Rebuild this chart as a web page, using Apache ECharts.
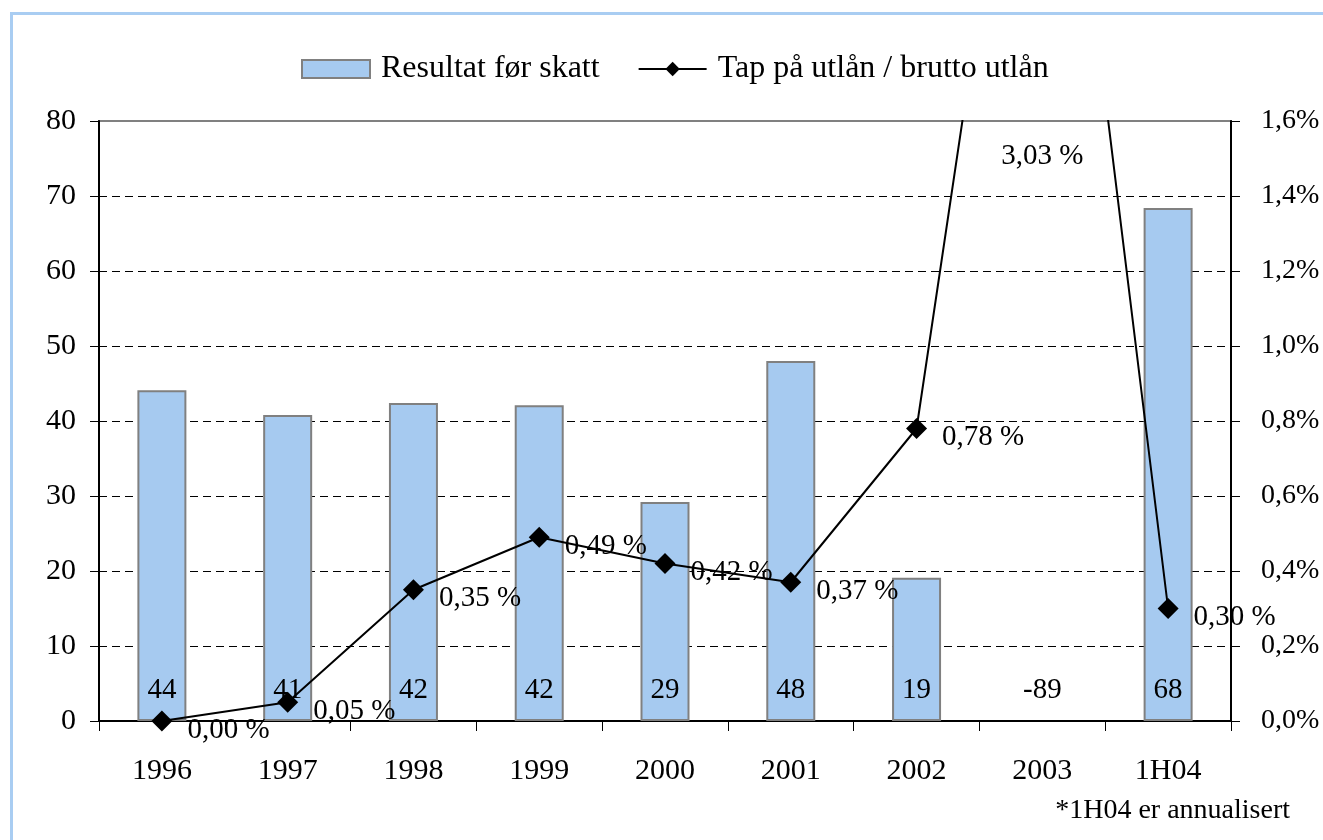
<!DOCTYPE html>
<html>
<head>
<meta charset="utf-8">
<script src="https://cdn.jsdelivr.net/npm/echarts@6/dist/echarts.min.js"></script>
<style>
  html, body { margin: 0; padding: 0; background: #fff; overflow: hidden; }
  #wrap { position: relative; width: 1323px; height: 840px; overflow: hidden; }
  #frame { position: absolute; left: 10px; top: 12px; width: 1400px; height: 900px;
           border: 3px solid #a9cdf2; box-sizing: border-box; }
  #chart { position: absolute; left: 0; top: 0; width: 1323px; height: 840px; }
</style>
</head>
<body>
<div id="wrap">
  <div id="frame"></div>
  <div id="chart"></div>
</div>
<script>
// kategorier og verdier
var aar = ['1996', '1997', '1998', '1999', '2000', '2001', '2002', '2003', '1H04'];
var resultat = [44.1, 40.8, 42.4, 42.1, 29.2, 48.0, 19.1, -89, 68.4];
var tap = [0.00, 0.05, 0.35, 0.49, 0.42, 0.37, 0.78, 3.03, 0.30];
var venstreTicks = { min: 0, max: 80, interval: 10 };
var hoyreTicks = { min: 0, max: 1.6, interval: 0.2 };

var font = 'Liberation Serif';
var chart = echarts.init(document.getElementById('chart'));

function pst(v) {
  return v.toFixed(2).replace('.', ',') + ' %';
}

// punkter over aksen vises ved toppen av plottet (kun etiketten)
var overMaks = tap.map(function (v, i) {
  return v > hoyreTicks.max ? [i, hoyreTicks.max, v] : [i, '-', v];
});

var option = {
  animation: false,
  textStyle: { fontFamily: font, color: '#000' },
  title: {
    text: '*1H04 er annualisert',
    right: 28,
    top: 792,
    textStyle: { fontFamily: font, fontSize: 28, fontWeight: 'normal', color: '#000' }
  },
  legend: {
    left: 296,
    top: 48,
    itemWidth: 68,
    itemHeight: 18,
    itemGap: 38,
    textStyle: { fontFamily: font, fontSize: 32, color: '#000', padding: [0, 0, 0, 6] },
    data: [
      { name: 'Resultat før skatt', icon: 'rect' },
      { name: 'Tap på utlån / brutto utlån' }
    ]
  },
  grid: {
    left: 99, right: 92, top: 121, bottom: 119,
    outerBoundsMode: 'none',
    show: true, borderColor: '#808080', borderWidth: 2, backgroundColor: 'transparent'
  },
  xAxis: {
    type: 'category',
    data: aar,
    axisLine: { lineStyle: { color: '#000', width: 2 } },
    axisTick: { show: true, length: 10, lineStyle: { color: '#000', width: 1 } },
    axisLabel: { fontFamily: font, fontSize: 30, color: '#000', margin: 35 }
  },
  yAxis: [{
    type: 'value',
    min: venstreTicks.min, max: venstreTicks.max, interval: venstreTicks.interval,
    axisLine: { show: true, lineStyle: { color: '#000', width: 2 } },
    axisTick: { show: true, length: 9, lineStyle: { color: '#000' } },
    axisLabel: { fontFamily: font, fontSize: 30, color: '#000', margin: 23 },
    splitLine: {
      show: true, showMinLine: false, showMaxLine: false,
      lineStyle: { color: '#000', width: 1, type: [8, 5] }
    }
  }, {
    type: 'value',
    position: 'right',
    min: hoyreTicks.min, max: hoyreTicks.max, interval: hoyreTicks.interval,
    axisLine: { show: true, lineStyle: { color: '#000', width: 2 } },
    axisTick: { show: true, length: 9, lineStyle: { color: '#000' } },
    axisLabel: {
      fontFamily: font, fontSize: 28, color: '#000', margin: 30,
      formatter: function (v) { return v.toFixed(1).replace('.', ',') + '%'; }
    },
    splitLine: { show: false }
  }],
  series: [{
    name: 'Resultat før skatt',
    type: 'bar',
    data: resultat,
    barWidth: 49,
    itemStyle: { color: '#a6caf0', borderColor: '#808080', borderWidth: 2 },
    z: 2
  }, {
    // verdietiketter for stolpene, plassert ved nullinjen
    name: 'stolpeetiketter',
    type: 'scatter',
    data: resultat.map(function (v, i) { return [i, 0, v]; }),
    symbolSize: 1,
    itemStyle: { color: 'transparent', opacity: 1 },
    silent: true,
    label: {
      show: true,
      position: 'top',
      distance: 16,
      fontFamily: font, fontSize: 29, color: '#000',
      formatter: function (p) { return String(Math.round(p.data[2])); }
    },
    z: 3
  }, {
    name: 'Tap på utlån / brutto utlån',
    type: 'line',
    yAxisIndex: 1,
    data: tap,
    symbol: 'diamond',
    symbolSize: 21,
    showAllSymbol: true,
    lineStyle: { color: '#000', width: 2 },
    itemStyle: { color: '#000' },
    label: {
      show: true,
      position: 'right',
      distance: 15,
      offset: [0, 9],
      fontFamily: font, fontSize: 29, color: '#000',
      formatter: function (p) { return pst(p.value); }
    },
    z: 5
  }, {
    name: 'overmaks',
    type: 'scatter',
    yAxisIndex: 1,
    data: overMaks,
    symbolSize: 1,
    itemStyle: { color: 'transparent', opacity: 1 },
    silent: true,
    label: {
      show: true,
      position: 'bottom',
      distance: 20,
      fontFamily: font, fontSize: 29, color: '#000',
      formatter: function (p) { return pst(p.data[2]); }
    },
    z: 6
  }]
};

chart.setOption(option);
</script>
</body>
</html>
